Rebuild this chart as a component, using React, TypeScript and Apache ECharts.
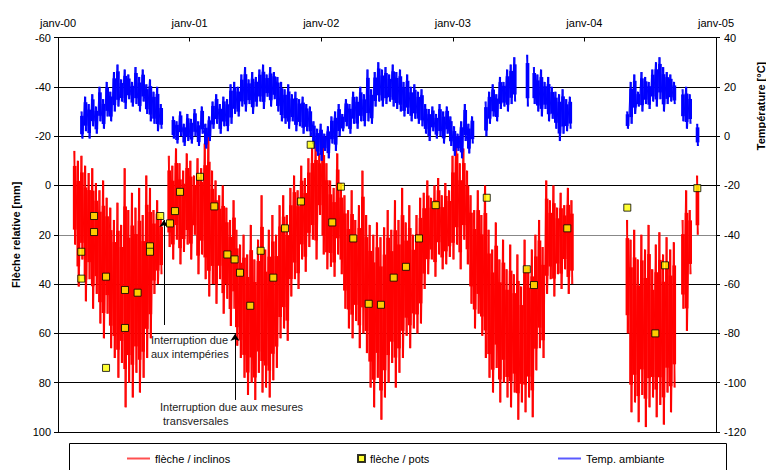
import React, { useEffect, useRef } from "react";
import * as echarts from "echarts";

// ---- time axis (decimal years) ----
const yearTicks = [2000, 2001, 2002, 2003, 2004, 2005];
const STEP_DAYS = 5; // spacing of the readings below (alternating high / low)

// ---- flèche / inclinos [mm] : segment start (decimal year) + readings ----
const inclinosAStart = 2000.12;
const inclinosA = [
  -14, 24, -10, 41, -12, 30, -8, 47, -5, 38, -7, 50, -1, 44, 2, 56,
  -2, 62, 5, 52, 9, 66, 14, 70, 7, 78, 16, 72, -7, 90, 10, 80,
  3, 86, 9, 76, 1, 84, 12, 78, -4, 70, 1, 62, 10, 44, 6, 40, 13, 36,
];
const inclinosBStart = 2000.838;
const inclinosB = [
  -12, 25, -8, 30, -15, 22, -9, 32, -6, 27, -13, 24,
  -10, 30, -4, 20, -11, 36, -7, 28, -17, 38, -20, 45,
  -6, 40, -2, 48, 4, 38, 0, 52, 9, 46, 14, 57, 6, 50,
];
const inclinosCStart = 2001.352;
const inclinosC = [
  18, 65, 24, 70,
  20, 78, 28, 85, 16, 80, 30, 87, 22, 76, 4, 84, 26, 82, 18, 86, 12, 79, 20, 74,
  8, 62, 4, 58, 12, 63,
  1, 45, -4, 38, 2, 42, -8, 30, -3, 35, -11, 25,
  -15, 22, -18, 30, -13, 12, -20, 28, -9, 34,
  -2, 33, 1, 37, -13, 28, -1, 36,
  4, 50, 10, 58, 2, 62, 14, 55, 8, 66, -6, 60, 12, 68,
  16, 82, 20, 90, 15, 78, 21, 95, 17, 86,
  10, 80, 18, 72, 6, 82, 14, 76,
  1, 70, 15, 61, 8, 66, 20, 58, 12, 60, 5, 56,
  3, 42, -2, 36, 5, 30, 0, 37, -3, 28, 4, 34, -1, 32, 2, 29,
  -12, 30, -20, 24, -9, 34, -15, 22, -6, 32,
  4, 48, 10, 58, 2, 52, 12, 61,
  0, 70, 18, 78, 26, 84, 15, 74, 30, 88, 22, 80, 34, 86,
  24, 90, 36, 84, 28, 95, 41, 88, 22, 92, 33, 86, 26, 94,
  20, 75, 14, 66, 25, 70,
  -2, 44, 6, 38, 0, 45, 9, 36, 3, 42, 8, 34, 1, 44, 6, 40,
];
const inclinosDStart = 2004.32;
const inclinosD = [
  14, 60, 22, 92, 18, 88, 30, 96, 20, 85, 26, 98, 16, 90, 34, 86,
  24, 94, 19, 89, 28, 97, 21, 84, 26, 92, 23, 82,
];
const inclinosEStart = 2004.742;
const inclinosE = [14, 50, 2, 59, 10, 36];
const inclinosFStart = 2004.852;
const inclinosF = [-4, 20];

// ---- flèche / pots [mm] : decimal year + value ----
const potsDates = [
  2000.177, 2000.177, 2000.274, 2000.274, 2000.365, 2000.365, 2000.509, 2000.509,
  2000.605, 2000.699, 2000.699, 2000.777, 2000.851, 2000.889, 2000.927,
  2001.079, 2001.188, 2001.287, 2001.342, 2001.383, 2001.461, 2001.54, 2001.636,
  2001.725, 2001.846, 2001.92,
  2002.084, 2002.15, 2002.244, 2002.361, 2002.454, 2002.551, 2002.644, 2002.743, 2002.87,
  2003.258, 2003.562, 2003.617, 2003.87,
  2004.326, 2004.539, 2004.613, 2004.858,
];
const potsValues = [
  26.9, 37.8, 12.4, 18.9, 37.0, 74, 42.4, 57.8,
  43.5, 24.7, 26.9, 12.4, 15.4, 10.4, 2.6,
  -3.5, 8.5, 28, 30, 35.4, 48.8, 26.5, 37.4,
  17.4, 6.5, -16.5,
  15, 0.5, 21.5, 48, 48.4, 37.4, 33, 21.5, 8,
  5, 34, 40.4, 17.4,
  9, 60, 32.4, 1.1,
];

// ---- Temp. ambiante [°C] : segment start + readings (alternating high / low) ----
const tempAStart = 2000.175;
const tempA = [
  10, -1, 16, 2, 13, -1, 17, 4, 12, 1,
  20, 6, 15, 3, 22, 8, 18, 6, 26, 10,
  29, 12, 23, 14, 27, 11, 25, 15, 22, 12,
  28, 13, 24, 10, 27, 14, 21, 9, 23, 6,
  18, 5, 20, 2, 13, 3,
];
const tempBStart = 2000.87;
const tempB = [
  8, -1, 6, -3, 10, 0, 5, -4, 9, -2,
  7, -3, 11, 0, 6, -4, 12, 1, 5, -5, 8, -2,
  14, 3, 17, 5, 13, 1, 16, 4, 15, 2, 21, 5,
  22, 9, 20, 8, 25, 12, 28, 10, 23, 13, 26, 9, 24, 12,
  27, 14, 29, 11, 25, 16, 28, 12, 26, 15, 24, 10,
  22, 6, 19, 5, 21, 3, 17, 6, 18, 2, 15, 4, 16, 1, 13, 2, 12, 0,
  6, -5, 3, -8, 5, -10, 1, -6, 4, -9, 8,
  -3, 10, -6, 13, 0, 9,
  2, 15, 4, 13, 1, 18, 5, 16, 3, 20, 6, 17, 4, 27, 6, 19, 5,
  26, 12, 30, 14, 27, 12, 28, 13, 25, 14, 29, 12, 26, 11, 27,
  10, 22, 8, 25, 9, 20, 6, 21, 7, 18, 5, 19, 4,
  13, 1, 11, -2, 12, 2, 9, -1, 13, 0, 10, -3, 12, 1, 8,
  -4, 4, -8, 1, -6, 6, -9, 13, -2, 5, -7, 8, -3,
];
const tempCStart = 2003.245;
const tempC = [14, 0, 18, 5, 21, 8, 17, 6, 24, 11, 22, 12, 27, 10, 29, 13, 32, 14];
const tempDStart = 2003.561;
const tempD = [33, 12];
const tempEStart = 2003.612;
const tempE = [28, 13, 25, 10, 27, 8, 22, 11, 24, 6, 20, 7, 18, 3, 17, -2, 19, 1, 15, 2, 16, 3];
const tempFStart = 2004.321;
const tempF = [
  10, 3, 22, 5, 25, 9, 18, 12, 26, 10, 24, 13, 22, 11, 27, 14,
  30, 12, 32, 15, 28, 10, 26, 13, 25, 14, 22, 13,
];
const tempGStart = 2004.742;
const tempG = [19, 6, 20, 3, 17, 5];
const tempHStart = 2004.853;
const tempH = [5, -4];

// ---- axes ----
const leftTicks = { min: -60, max: 100, interval: 20 };
const rightTicks = { min: -120, max: 40, interval: 20 };

const STEP = STEP_DAYS / 365.25;
type Seg = [number, number[]];
// zig-zag points for the line
function linePoints(segs: Seg[]) {
  const out: any[] = [];
  segs.forEach(([start, vals], k) => {
    if (k > 0) out.push([start - STEP / 2, null]);
    vals.forEach((v, i) => out.push([start + i * STEP, v]));
  });
  return out;
}
// high / low pairs -> range marks
function rangePoints(segs: Seg[]) {
  const out: number[][] = [];
  segs.forEach(([start, vals]) => {
    for (let i = 0; i + 1 < vals.length; i += 2) {
      out.push([start + i * STEP + STEP / 2, vals[i], vals[i + 1]]);
    }
  });
  return out;
}

const FONT = "'Liberation Sans', Arial, sans-serif";

// each high/low pair: a solid core band plus a thin needle reaching the extremes
function rangeRenderer(color: string) {
  return (params: any, api: any) => {
    const x = api.value(0);
    const a = api.coord([x - STEP * 1.02, api.value(1)]);
    const b = api.coord([x + STEP * 1.02, api.value(2)]);
    const left = Math.min(a[0], b[0]);
    const w = Math.abs(b[0] - a[0]);
    const y0 = Math.min(a[1], b[1]);
    const h = Math.abs(b[1] - a[1]);
    const cut = h * 0.16;
    return {
      type: "group",
      children: [
        {
          type: "rect",
          shape: { x: left, y: y0 + cut, width: w, height: Math.max(0, h - 2 * cut) },
          style: { fill: color },
        },
        {
          type: "rect",
          shape: { x: left + w / 2 - 0.7, y: y0, width: 1.4, height: h },
          style: { fill: color },
        },
      ],
    };
  };
}

export default function App() {
  const ref = useRef<HTMLDivElement>(null);
  useEffect(() => {
    if (!ref.current) return;
    const chart = echarts.init(ref.current, null, { renderer: "svg" });
    const inclSegs: Seg[] = [
      [inclinosAStart, inclinosA],
      [inclinosBStart, inclinosB],
      [inclinosCStart, inclinosC],
      [inclinosDStart, inclinosD],
      [inclinosEStart, inclinosE],
      [inclinosFStart, inclinosF],
    ];
    const tempSegs: Seg[] = [
      [tempAStart, tempA],
      [tempBStart, tempB],
      [tempCStart, tempC],
      [tempDStart, tempD],
      [tempEStart, tempE],
      [tempFStart, tempF],
      [tempGStart, tempG],
      [tempHStart, tempH],
    ];
    const pots = potsDates.map((d, i) => [d, potsValues[i]]);
    const gridColors = ["#000", "#000", "#000", "#000", "#888", "#000", "#000", "#000", "#000"];
    const labelStyle = { color: "#000", fontSize: 11, fontFamily: FONT };

    chart.setOption({
      animation: false,
      backgroundColor: "#fff",
      textStyle: { fontFamily: FONT },
      grid: { left: 58, right: 50, top: 37.5, bottom: 38, containLabel: false },
      xAxis: [
        {
          type: "value",
          position: "top",
          min: yearTicks[0],
          max: yearTicks[yearTicks.length - 1],
          interval: 1,
          axisLine: { show: true, onZero: false, lineStyle: { color: "#000", width: 1 } },
          axisTick: { show: true, inside: true, length: 4, lineStyle: { color: "#000" } },
          axisLabel: {
            ...labelStyle,
            margin: 9,
            formatter: (v: number) => "janv-" + String(Math.round(v)).slice(2),
          },
          splitLine: { show: false },
        },
      ],
      yAxis: [
        {
          type: "value",
          position: "left",
          inverse: true,
          min: leftTicks.min,
          max: leftTicks.max,
          interval: leftTicks.interval,
          name: "Flèche relative [mm]",
          nameLocation: "middle",
          nameGap: 34,
          nameTextStyle: { color: "#000", fontSize: 11, fontWeight: "bold", fontFamily: FONT },
          axisLine: { show: true, onZero: false, lineStyle: { color: "#000", width: 1 } },
          axisTick: { show: true, inside: false, length: 4, lineStyle: { color: "#000" } },
          axisLabel: { ...labelStyle, margin: 7 },
          splitLine: { show: true, lineStyle: { color: gridColors, width: 1 } },
        },
        {
          type: "value",
          position: "right",
          min: rightTicks.min,
          max: rightTicks.max,
          interval: rightTicks.interval,
          axisLine: { show: true, onZero: false, lineStyle: { color: "#000", width: 1 } },
          axisTick: { show: true, inside: false, length: 4, lineStyle: { color: "#000" } },
          axisLabel: { ...labelStyle, margin: 8 },
          splitLine: { show: false },
        },
      ],
      legend: [
        {
          data: ["flèche / inclinos"],
          left: 127,
          top: 453,
          padding: 0,
          icon: "rect",
          itemWidth: 23,
          itemHeight: 2,
          itemStyle: { color: "#ff5050" },
          textStyle: labelStyle,
        },
        {
          data: ["flèche / pots"],
          left: 357,
          top: 453,
          padding: 0,
          itemWidth: 7,
          itemHeight: 7,
          textStyle: labelStyle,
        },
        {
          data: ["Temp. ambiante"],
          left: 558,
          top: 453,
          padding: 0,
          icon: "rect",
          itemWidth: 23,
          itemHeight: 2,
          itemStyle: { color: "#5a5aff" },
          textStyle: labelStyle,
        },
      ],
      graphic: [
        {
          type: "rect",
          shape: { x: 69.5, y: 443.5, width: 657, height: 40 },
          style: { fill: "none", stroke: "#000", lineWidth: 1 },
          silent: true,
        },
        {
          type: "text",
          x: 761,
          y: 106,
          rotation: Math.PI / 2,
          style: {
            text: "Température [°C]",
            fill: "#000",
            font: `bold 11px ${FONT}`,
            align: "center",
            verticalAlign: "middle",
          },
          silent: true,
        },
        {
          type: "text",
          x: 151,
          y: 333,
          style: {
            text: "Interruption due\naux intempéries",
            fill: "#222",
            font: `11px ${FONT}`,
            lineHeight: 14,
            align: "left",
            verticalAlign: "top",
          },
          silent: true,
        },
        {
          type: "text",
          x: 160,
          y: 400,
          style: {
            text: "Interruption due aux mesures\n transversales",
            fill: "#222",
            font: `11px ${FONT}`,
            lineHeight: 14,
            align: "left",
            verticalAlign: "top",
          },
          silent: true,
        },
      ],
      series: [
        {
          name: "flèche / inclinos",
          type: "line",
          data: linePoints(inclSegs),
          xAxisIndex: 0,
          yAxisIndex: 0,
          symbol: "none",
          showSymbol: false,
          connectNulls: false,
          lineStyle: { color: "#ff0000", width: 1 },
          itemStyle: { color: "#ff0000" },
          z: 2,
          markLine: {
            silent: true,
            symbol: ["none", "arrow"],
            symbolSize: 7,
            label: { show: false },
            lineStyle: { color: "#000", width: 1, type: "solid" },
            data: [
              [{ coord: [2000.805, 56.6] }, { coord: [2000.805, 14] }],
              [{ coord: [2001.345, 87] }, { coord: [2001.345, 60.3] }],
            ],
          },
        },
        {
          name: "flèche / inclinos",
          type: "custom",
          data: rangePoints(inclSegs),
          xAxisIndex: 0,
          yAxisIndex: 0,
          encode: { x: 0, y: [1, 2] },
          renderItem: rangeRenderer("#ff0000"),
          itemStyle: { color: "#ff0000" },
          silent: true,
          z: 2,
        },
        {
          name: "Temp. ambiante",
          type: "line",
          data: linePoints(tempSegs),
          xAxisIndex: 0,
          yAxisIndex: 1,
          symbol: "none",
          showSymbol: false,
          connectNulls: false,
          lineStyle: { color: "#0000ff", width: 1 },
          itemStyle: { color: "#0000ff" },
          z: 3,
        },
        {
          name: "Temp. ambiante",
          type: "custom",
          data: rangePoints(tempSegs),
          xAxisIndex: 0,
          yAxisIndex: 1,
          encode: { x: 0, y: [1, 2] },
          renderItem: rangeRenderer("#0000ff"),
          itemStyle: { color: "#0000ff" },
          silent: true,
          z: 3,
        },
        {
          name: "flèche / pots",
          type: "scatter",
          data: pots,
          xAxisIndex: 0,
          yAxisIndex: 0,
          symbol: "rect",
          symbolSize: 7,
          itemStyle: { color: "#ffff00", borderColor: "#000", borderWidth: 1 },
          z: 5,
        },
      ],
    });
    return () => chart.dispose();
  }, []);
  return (
    <div
      ref={ref}
      style={{ position: "fixed", left: 0, top: 0, width: 766, height: 470, background: "#fff" }}
    />
  );
}
